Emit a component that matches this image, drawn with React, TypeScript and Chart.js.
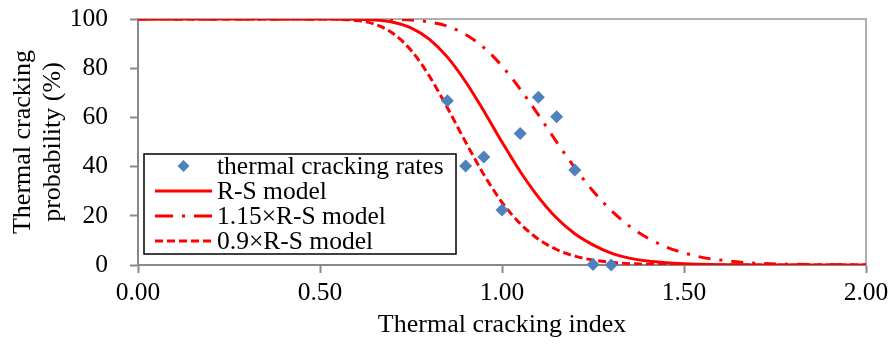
import React, { useEffect, useRef } from "react";
import { Chart, registerables } from "chart.js";

Chart.register(...registerables);

const rateX = [0.85, 0.9, 0.95, 1.0, 1.05, 1.1, 1.15, 1.2, 1.25, 1.3];
const rateY = [66.8, 40.2, 43.9, 22.4, 53.5, 68.2, 60.3, 38.6, 0.2, 0];

const curveX = [0, 0.1, 0.2, 0.3, 0.4, 0.5, 0.55, 0.6, 0.65, 0.7, 0.75, 0.8, 0.85, 0.9, 0.95, 1.0, 1.05, 1.1, 1.15, 1.2, 1.25, 1.3, 1.35, 1.4, 1.45, 1.5, 1.55, 1.6, 1.65, 1.7, 1.8, 1.9, 2.0];
const rsModel = [100, 100, 100, 100, 100, 100, 100, 99.9, 99.6, 98.7, 96.4, 91.8, 84.5, 74.5, 62.6, 50, 38, 27.6, 19.1, 12.7, 8.2, 4.8, 2.8, 1.6, 0.9, 0.5, 0.3, 0.15, 0.08, 0.04, 0.01, 0, 0];
const rsModel115 = [100, 100, 100, 100, 100, 100, 100, 100, 100, 99.9, 99.6, 98.8, 97.1, 93.7, 88.4, 80.9, 71.5, 61.0, 50, 39.5, 30.1, 22.2, 15.8, 11.0, 7.4, 4.9, 3.1, 2.0, 1.2, 0.7, 0.3, 0.1, 0];
const rsModel09 = [100, 100, 100, 100, 100, 100, 99.9, 99.4, 97.9, 94.2, 87.3, 76.9, 63.9, 50, 36.8, 25.5, 16.8, 10.5, 6.3, 3.6, 2.0, 1.1, 0.56, 0.29, 0.15, 0.07, 0.04, 0.02, 0.01, 0, 0, 0, 0];

const xTicks = [0, 0.5, 1.0, 1.5, 2.0];
const yTicks = [0, 20, 40, 60, 80, 100];

const seriesLabels = ["thermal cracking rates", "R-S model", "1.15\u00d7R-S model", "0.9\u00d7R-S model"];

const FONT = "'Liberation Serif', 'Times New Roman', serif";
const RED = "#ff0000";
const BLUE = "#4f81bd";
const AXIS = "#898989";
const FRAME = "#b0b0b0";

const framePlugin = {
  id: "frame",
  beforeDatasetsDraw(chart: any) {
    const { ctx, chartArea } = chart;
    ctx.save();
    ctx.strokeStyle = FRAME;
    ctx.lineWidth = 2;
    ctx.beginPath();
    ctx.moveTo(chartArea.left, chartArea.top);
    ctx.lineTo(chartArea.right, chartArea.top);
    ctx.lineTo(chartArea.right, chartArea.bottom);
    ctx.stroke();
    ctx.restore();
  },
};

const legendPlugin = {
  id: "boxLegend",
  afterDatasetsDraw(chart: any) {
    const { ctx, chartArea } = chart;
    const bx = chartArea.left + 6;
    const by = chartArea.top + 135;
    const bw = 312;
    const bh = 100;
    ctx.save();
    ctx.fillStyle = "#ffffff";
    ctx.fillRect(bx, by, bw, bh);
    ctx.strokeStyle = "#000000";
    ctx.lineWidth = 1.5;
    ctx.strokeRect(bx, by, bw, bh);
    const rowY = [by + 12, by + 37, by + 62, by + 87];
    const lx0 = bx + 11;
    const lx1 = bx + 68;
    ctx.font = `25.5px ${FONT}`;
    ctx.textBaseline = "middle";
    ctx.textAlign = "left";
    chart.data.datasets.forEach((ds: any, i: number) => {
      const y = rowY[i];
      if (i === 0) {
        const cx = (lx0 + lx1) / 2;
        const r = 6;
        ctx.fillStyle = BLUE;
        ctx.beginPath();
        ctx.moveTo(cx - r, y);
        ctx.lineTo(cx, y - r);
        ctx.lineTo(cx + r, y);
        ctx.lineTo(cx, y + r);
        ctx.closePath();
        ctx.fill();
      } else {
        ctx.strokeStyle = RED;
        ctx.lineWidth = 3;
        ctx.lineCap = "butt";
        if (i === 2) ctx.setLineDash([18, 9, 3, 9]);
        else if (i === 3) ctx.setLineDash([8, 4]);
        else ctx.setLineDash([]);
        ctx.beginPath();
        ctx.moveTo(lx0, y);
        ctx.lineTo(lx1, y);
        ctx.stroke();
        ctx.setLineDash([]);
      }
      ctx.fillStyle = "#000000";
      ctx.fillText(ds.label, bx + 73, y + 1);
    });
    ctx.restore();
  },
};

export default function App() {
  const ref = useRef<HTMLCanvasElement | null>(null);
  useEffect(() => {
    if (!ref.current) return;
    const pts = (ys: number[]) => curveX.map((x, i) => ({ x, y: ys[i] }));
    const chart = new Chart(ref.current, {
      type: "line",
      data: {
        datasets: [
          {
            label: seriesLabels[0],
            data: rateX.map((x, i) => ({ x, y: rateY[i] })),
            showLine: false,
            clip: false,
            pointStyle: "rectRot",
            pointRadius: 6.5,
            pointBackgroundColor: BLUE,
            pointBorderColor: BLUE,
            pointBorderWidth: 0,
            borderColor: BLUE,
            backgroundColor: BLUE,
          },
          {
            label: seriesLabels[1],
            data: pts(rsModel),
            borderColor: RED,
            borderWidth: 3,
            pointRadius: 0,
            cubicInterpolationMode: "monotone",
            fill: false,
          },
          {
            label: seriesLabels[2],
            data: pts(rsModel115),
            borderColor: RED,
            borderWidth: 3,
            borderDash: [12, 9, 3, 9],
            pointRadius: 0,
            cubicInterpolationMode: "monotone",
            fill: false,
          },
          {
            label: seriesLabels[3],
            data: pts(rsModel09),
            borderColor: RED,
            borderWidth: 3,
            borderDash: [8, 4],
            pointRadius: 0,
            cubicInterpolationMode: "monotone",
            fill: false,
          },
        ],
      },
      options: {
        animation: false,
        responsive: false,
        events: [],
        layout: { padding: { top: 19, right: 23, left: 0, bottom: 0 } },
        plugins: { legend: { display: false }, tooltip: { enabled: false } },
        scales: {
          x: {
            type: "linear",
            min: 0,
            max: 2,
            afterBuildTicks: (s: any) => {
              s.ticks = xTicks.map((v) => ({ value: v }));
            },
            afterFit: (s: any) => {
              s.height = 82;
              s.paddingLeft = 0;
              s.paddingRight = 0;
            },
            ticks: {
              callback: (v: any) => Number(v).toFixed(2),
              font: { family: FONT, size: 25.5 },
              color: "#000",
              padding: 5,
              maxRotation: 0,
            },
            grid: { drawOnChartArea: false, drawTicks: true, tickLength: 8, tickColor: AXIS, tickWidth: 2 },
            border: { color: AXIS, width: 2 },
            title: {
              display: true,
              text: "Thermal cracking index",
              font: { family: FONT, size: 26 },
              color: "#000",
              padding: { top: 0, bottom: 6 },
            },
          },
          y: {
            type: "linear",
            min: 0,
            max: 100,
            afterBuildTicks: (s: any) => {
              s.ticks = yTicks.map((v) => ({ value: v }));
            },
            afterFit: (s: any) => {
              s.width = 138;
              s.paddingTop = 0;
              s.paddingBottom = 0;
            },
            ticks: {
              font: { family: FONT, size: 25.5 },
              color: "#000",
              padding: 22,
            },
            grid: { drawOnChartArea: false, drawTicks: true, tickLength: 8, tickColor: AXIS, tickWidth: 2 },
            border: { color: AXIS, width: 2 },
            title: {
              display: true,
              text: ["Thermal cracking", "probability (%)"],
              font: { family: FONT, size: 26, lineHeight: 1.15 },
              color: "#000",
              padding: { top: 8, bottom: 0 },
            },
          },
        },
      },
      plugins: [framePlugin, legendPlugin],
    });
    return () => chart.destroy();
  }, []);
  return (
    <div style={{ position: "absolute", left: 0, top: 0, width: 889, height: 347, background: "#fff" }}>
      <canvas ref={ref} width={889} height={347} />
    </div>
  );
}
